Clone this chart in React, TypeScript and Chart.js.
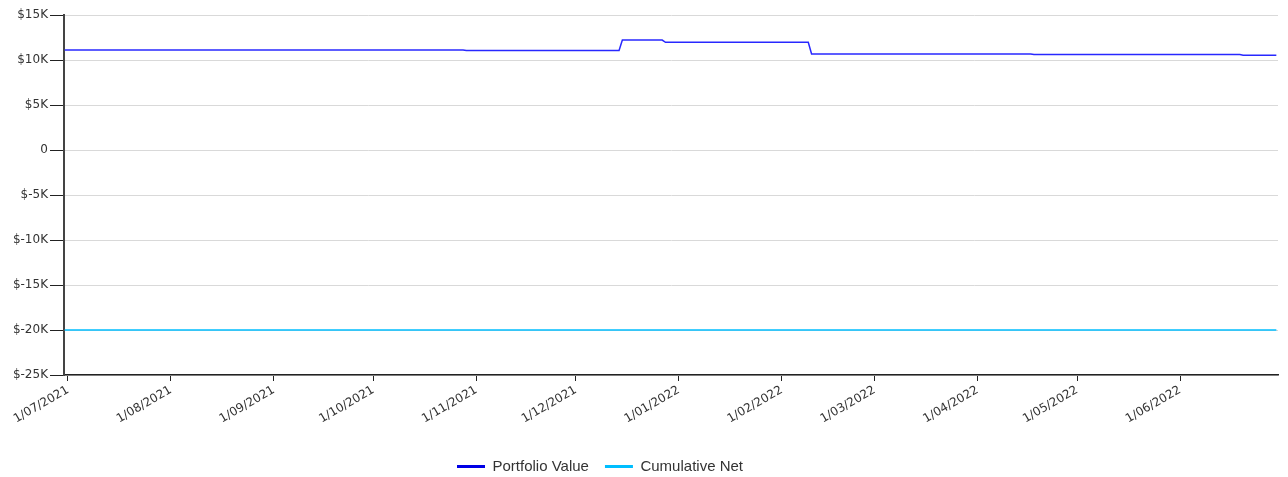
import React, { useEffect, useRef } from "react";
import { Chart, registerables } from "chart.js";

Chart.register(...registerables);

// Dates as "YYYY-MM-DD"
const portfolioDates = [
  "2021-06-30", "2021-10-28", "2021-10-29", "2021-12-14", "2021-12-15",
  "2021-12-27", "2021-12-28", "2022-02-09", "2022-02-10", "2022-04-17",
  "2022-04-18", "2022-06-19", "2022-06-20", "2022-06-30",
];
const portfolioValues = [
  11100, 11100, 11060, 11060, 12220,
  12220, 11970, 11970, 10670, 10670,
  10600, 10600, 10530, 10530,
];
const cumulativeDates = ["2021-06-30", "2022-06-30"];
const cumulativeValues = [-20000, -20000];

const tickDates = [
  "2021-07-01", "2021-08-01", "2021-09-01", "2021-10-01", "2021-11-01", "2021-12-01",
  "2022-01-01", "2022-02-01", "2022-03-01", "2022-04-01", "2022-05-01", "2022-06-01",
];
const tickLabels = [
  "1/07/2021", "1/08/2021", "1/09/2021", "1/10/2021", "1/11/2021", "1/12/2021",
  "1/01/2022", "1/02/2022", "1/03/2022", "1/04/2022", "1/05/2022", "1/06/2022",
];
const yTicks = [15000, 10000, 5000, 0, -5000, -10000, -15000, -20000, -25000];

const BASE = Date.UTC(2021, 6, 1);
function dayOf(s: string): number {
  const [y, m, d] = s.split("-").map(Number);
  return (Date.UTC(y, m - 1, d) - BASE) / 86400000;
}

const legendShift = {
  id: "legendShift",
  afterLayout(chart: any) {
    const l = chart.legend;
    if (!l) return;
    const w = l.width;
    l.left = 457 - 16;
    l.right = l.left + w;
    l.top += 7;
    l.bottom += 7;
  },
};

export default function App() {
  const ref = useRef<HTMLCanvasElement | null>(null);
  useEffect(() => {
    if (!ref.current) return;
    const tickDays = tickDates.map(dayOf);
    const chart = new Chart(ref.current, {
      type: "line",
      data: {
        datasets: [
          {
            label: "Portfolio Value",
            data: portfolioDates.map((d, i) => ({ x: dayOf(d), y: portfolioValues[i] })),
            borderColor: "rgb(40,40,255)",
            backgroundColor: "rgb(0,0,230)",
            borderWidth: 1.5,
            pointRadius: 0,
            tension: 0,
          },
          {
            label: "Cumulative Net",
            data: cumulativeDates.map((d, i) => ({ x: dayOf(d), y: cumulativeValues[i] })),
            borderColor: "rgb(0,190,255)",
            backgroundColor: "rgb(0,190,255)",
            borderWidth: 1.5,
            pointRadius: 0,
            tension: 0,
          },
        ],
      },
      options: {
        responsive: false,
        animation: false,
        layout: { padding: { top: 15, right: 10, left: 0, bottom: 0 } },
        plugins: {
          tooltip: { enabled: false },
          legend: {
            position: "bottom",
            align: "start",
            labels: {
              usePointStyle: true,
              pointStyle: "line",
              pointStyleWidth: 28,
              padding: 16,
              color: "#333",
              font: { family: "'Liberation Sans', Arial, sans-serif", size: 15 },
              generateLabels: (c: any) =>
                c.data.datasets.map((ds: any, i: number) => ({
                  text: ds.label,
                  strokeStyle: i === 0 ? "rgb(0,0,230)" : "rgb(0,190,255)",
                  fillStyle: i === 0 ? "rgb(0,0,230)" : "rgb(0,190,255)",
                  lineWidth: 3,
                  pointStyle: "line",
                  hidden: false,
                  datasetIndex: i,
                  fontColor: "#333",
                })),
            },
          },
        },
        scales: {
          x: {
            type: "linear",
            min: -1.2,
            max: 364.5,
            afterBuildTicks: (s: any) => {
              s.ticks = tickDays.map((v) => ({ value: v }));
            },
            afterFit: (s: any) => {
              s.height = 61;
            },
            ticks: {
              autoSkip: false,
              minRotation: 30,
              maxRotation: 30,
              color: "#333",
              padding: 2,
              font: { family: "'DejaVu Sans', Verdana, sans-serif", size: 12 },
              callback: (v: any) => {
                const idx = tickDays.indexOf(Number(v));
                return idx >= 0 ? tickLabels[idx] : "";
              },
            },
            grid: {
              display: true,
              drawOnChartArea: false,
              tickColor: "#222",
              tickLength: 6,
            },
            border: { color: "#222", width: 1.5 },
          },
          y: {
            type: "linear",
            min: -25000,
            max: 15000,
            afterBuildTicks: (s: any) => {
              s.ticks = yTicks.map((v) => ({ value: v }));
            },
            afterFit: (s: any) => {
              s.width = 64;
            },
            ticks: {
              color: "#333",
              padding: 2,
              font: { family: "'DejaVu Sans', Verdana, sans-serif", size: 12 },
              callback: (v: any) => (Number(v) === 0 ? "0" : "$" + Number(v) / 1000 + "K"),
            },
            grid: {
              color: "#d9d9d9",
              lineWidth: 1,
              tickColor: "#222",
              tickLength: 14,
            },
            border: { color: "#444", width: 2 },
          },
        },
      },
      plugins: [legendShift],
    });
    return () => chart.destroy();
  }, []);
  return (
    <div style={{ position: "absolute", left: 0, top: 0, width: 1288, height: 477, background: "#fff" }}>
      <canvas ref={ref} width={1288} height={477} />
    </div>
  );
}
